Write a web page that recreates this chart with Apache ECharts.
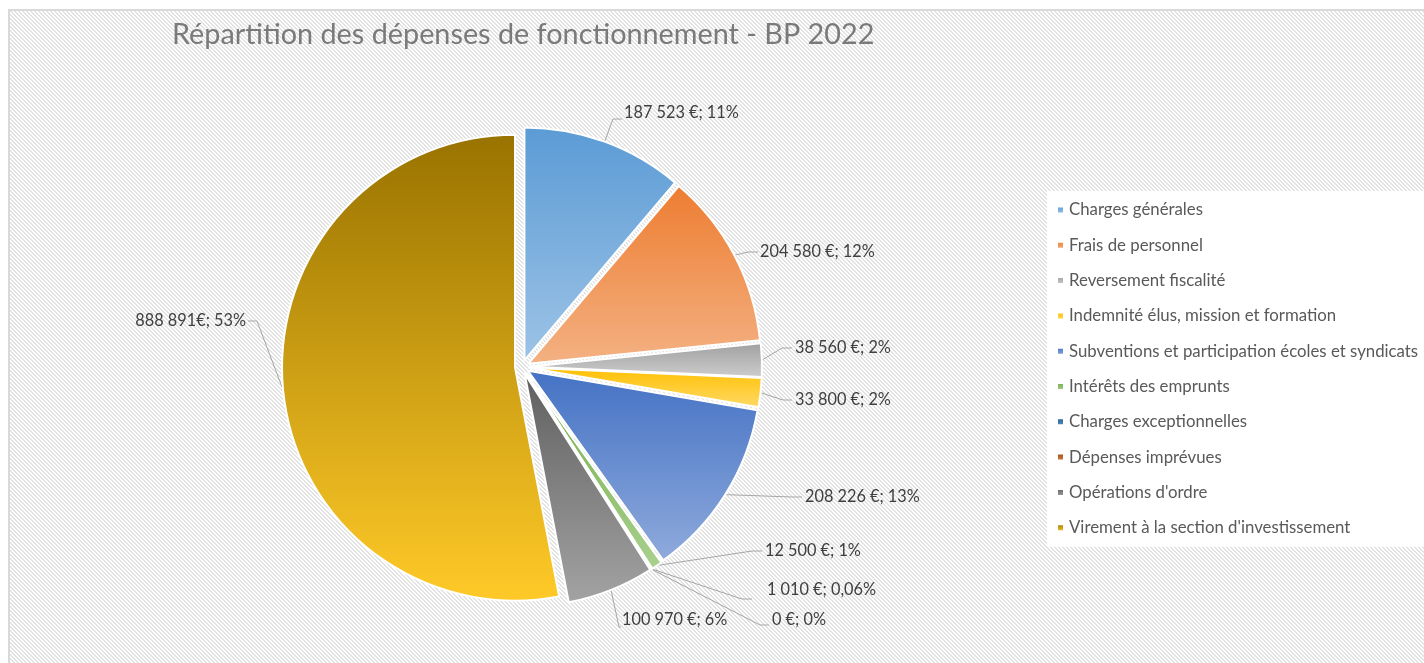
<!DOCTYPE html>
<html>
<head>
<meta charset="utf-8">
<script src="https://cdn.jsdelivr.net/npm/echarts@6/dist/echarts.min.js"></script>
<style>
  html, body { margin: 0; padding: 0; width: 1424px; height: 663px; overflow: hidden; background: #fff; }
  #frame { position: absolute; left: 8px; top: 9px; width: 1440px; height: 680px; border: 2px solid #d9d9d9; }
  #chart { position: absolute; left: 0; top: 0; width: 1424px; height: 663px; }
</style>
</head>
<body>
<div id="frame"></div>
<div id="chart"></div>
<script>
// données BP 2022
const categories = [
  'Charges générales',
  'Frais de personnel',
  'Reversement fiscalité',
  'Indemnité élus, mission et formation',
  'Subventions et participation écoles et syndicats',
  'Intérêts des emprunts',
  'Charges exceptionnelles',
  'Dépenses imprévues',
  "Opérations d'ordre",
  "Virement à la section d'investissement"
];
const amounts = [187523, 204580, 38560, 33800, 208226, 12500, 1010, 0, 100970, 888891];
const labelTexts = [
  '187 523 €; 11%', '204 580 €; 12%', '38 560 €; 2%', '33 800 €; 2%', '208 226 €; 13%',
  '12 500 €; 1%', '1 010 €; 0,06%', '0 €; 0%', '100 970 €; 6%', '888 891€; 53%'
];

// couleurs (haut -> bas du dégradé)
const topColors = ['#5b9bd5', '#ed7d31', '#a0a0a0', '#ffc000', '#4472c4', '#70ad47', '#255e91', '#9e480e', '#5f5f5f', '#997300'];
const bottomColors = ['#9dc3e6', '#f4b183', '#cdcdcd', '#ffd966', '#8faadc', '#a9d18e', '#5b8fc6', '#d9824a', '#a3a3a3', '#ffca28'];

// fond hachuré
const tile = document.createElement('canvas');
tile.width = 4; tile.height = 4;
const g = tile.getContext('2d');
g.fillStyle = '#fff'; g.fillRect(0, 0, 4, 4);
g.fillStyle = '#e2e2e2';
for (let i = 0; i < 4; i++) { g.fillRect(i, i, 1, 1); g.fillRect((i + 1) % 4, i, 1, 1); }
document.getElementById('frame').style.backgroundImage = 'url(' + tile.toDataURL() + ')';

const pieCenter = [522, 367];
const pieRadius = 233;
const explode = 7;

// position des étiquettes: [fin du trait x, y, coude x, texte x, texte y, côté]
const labelSpots = [
  [622, 119, 613, 624, 113, 1],
  [758, 252, 748, 760, 252, 1],
  [792, 348, 782, 795, 348, 1],
  [792, 400, 783, 795, 400, 1],
  [802, 497, 792, 805, 497, 1],
  [762, 551, 752, 765, 551, 1],
  [752, 599, 742, 767, 590, 1],
  [769, 625, 760, 772, 620, 1],
  [621, 627, 619, 622, 620, 1],
  [248, 321, 257, 246, 321, -1]
];

const pieData = categories.map(function (name, i) {
  return {
    name: name,
    value: amounts[i],
    selected: true,
    itemStyle: {
      color: new echarts.graphic.LinearGradient(0, 0, 0, 1, [
        { offset: 0, color: topColors[i] },
        { offset: 1, color: bottomColors[i] }
      ])
    }
  };
});

const myChart = echarts.init(document.getElementById('chart'));
const option = {
  backgroundColor: 'transparent',
  animation: false,
  title: {
    text: 'Répartition des dépenses de fonctionnement - BP 2022',
    left: 172,
    top: 20,
    padding: 0,
    textStyle: { fontFamily: 'Lato', fontSize: 28.8, fontWeight: 'normal', color: '#7a7a7a' }
  },
  legend: {
    orient: 'vertical',
    left: 1047,
    top: 191,
    backgroundColor: '#fff',
    padding: [9, 20, 9, 9],
    icon: 'rect',
    itemWidth: 7,
    itemHeight: 7,
    itemGap: 15.3,
    selectedMode: false,
    data: categories,
    textStyle: { fontFamily: 'Lato', fontSize: 16.8, color: '#595959', lineHeight: 20 }
  },
  series: [{
    type: 'pie',
    center: pieCenter,
    radius: pieRadius,
    startAngle: 90,
    clockwise: true,
    selectedMode: 'multiple',
    selectedOffset: explode,
    emphasis: { disabled: true, scale: false },
    itemStyle: { borderColor: '#fff', borderWidth: 2 },
    label: { show: false },
    labelLine: { show: false },
    data: pieData
  }, {
    // étiquettes seules
    type: 'pie',
    center: pieCenter,
    radius: pieRadius,
    startAngle: 90,
    clockwise: true,
    silent: true,
    avoidLabelOverlap: false,
    emphasis: { disabled: true, scale: false },
    itemStyle: { color: 'transparent', borderWidth: 0 },
    label: {
      show: true,
      position: 'outside',
      fontFamily: 'Lato',
      fontSize: 16.3,
      color: '#404040',
      formatter: function (p) { return labelTexts[p.dataIndex]; }
    },
    labelLine: { show: true, length: 10, length2: 10, lineStyle: { color: '#a6a6a6', width: 1 } },
    labelLayout: function (p) {
      const s = labelSpots[p.dataIndex];
      const p0 = p.labelLinePoints[0];
      const vx = p0[0] - pieCenter[0], vy = p0[1] - pieCenter[1];
      const k = 1 + explode / Math.sqrt(vx * vx + vy * vy);
      const start = [pieCenter[0] + vx * k, pieCenter[1] + vy * k];
      return {
        x: s[3],
        y: s[4],
        align: s[5] > 0 ? 'left' : 'right',
        verticalAlign: 'middle',
        labelLinePoints: [start, [s[2], s[1]], [s[0], s[1]]]
      };
    },
    data: categories.map(function (name, i) { return { name: name, value: amounts[i] }; })
  }]
};
myChart.setOption(option);
</script>
</body>
</html>
